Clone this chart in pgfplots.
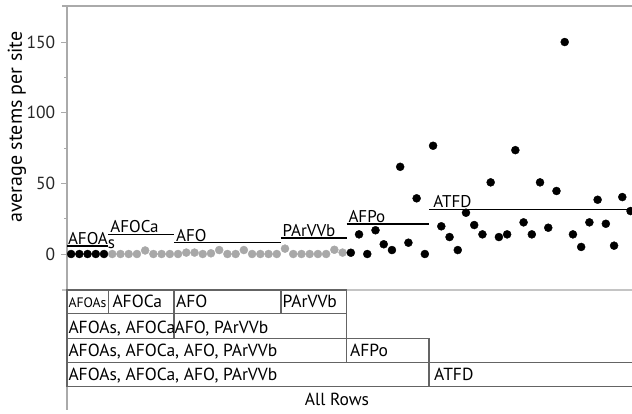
\documentclass[border=0pt]{standalone}
\usepackage{pgfplots}
\pgfplotsset{compat=1.18}
\usepackage{fontspec}
\setmainfont{PT Sans}
\definecolor{axgray}{RGB}{170,170,170}
\definecolor{ptgray}{RGB}{168,168,168}
\definecolor{tabgray}{RGB}{100,100,100}
\begin{document}
\fontsize{17}{20}\selectfont
\begin{tikzpicture}[x=1pt,y=1pt]
\useasboundingbox (0,0) rectangle (632,413);
\begin{axis}[
  at={(67pt,123pt)}, anchor=south west,
  width=565pt, height=284pt, scale only axis,
  xmin=-0.5, xmax=68.18, ymin=-25.47, ymax=175.5,
  axis x line=none, axis y line*=left,
  y axis line style={draw=axgray, line width=1.5pt, -},
  ytick={0,50,100,150}, minor ytick={25,75,125},
  tick align=outside, major tick length=6pt, minor tick length=3pt,
  every tick/.style={draw=axgray, line width=1pt},
  yticklabel style={font=\fontsize{17.5}{20}\selectfont, text=black!85},
  /pgf/number format/assume math mode=true,
  clip=false,
]
% group label lines
\addplot[black, line width=1.1pt, no marks, forget plot] coordinates {(-0.5,5.7) (4.5,5.7)};
\addplot[black, line width=1.1pt, no marks, forget plot] coordinates {(4.5,14.1) (12.5,14.1)};
\addplot[black, line width=1.1pt, no marks, forget plot] coordinates {(12.5,8.0) (25.5,8.0)};
\addplot[black, line width=1.1pt, no marks, forget plot] coordinates {(25.5,11.3) (33.5,11.3)};
\addplot[black, line width=1.1pt, no marks, forget plot] coordinates {(33.5,21.2) (43.5,21.2)};
\addplot[black, line width=1.1pt, no marks, forget plot] coordinates {(43.5,31.8) (68.18,31.8)};
% AFOAs (black)
\addplot[only marks, mark=*, mark size=4pt, black, mark options={draw=none, fill=black}] coordinates {
(0,0) (1,0) (2,0) (3,0) (4,0)};
% AFOCa, AFO, PArVVb (gray)
\addplot[only marks, mark=*, mark size=4pt, ptgray, mark options={draw=none, fill=ptgray}] coordinates {
(5,0) (6,0) (7,0) (8,0) (9,2.5) (10,0) (11,0) (12,0)
(13,0) (14,1) (15,1) (16,0) (17,0.5) (18,2.8) (19,0) (20,0) (21,2.8) (22,0) (23,0) (24,0) (25,0)
(26,3.8) (27,0) (28,0) (29,0) (30,0) (31,0) (32,3) (33,1)};
% AFPo (black)
\addplot[only marks, mark=*, mark size=4pt, black, mark options={draw=none, fill=black}] coordinates {
(34,0.9) (35,13.9) (36,0) (37,16.8) (38,6.9) (39,2.8) (40,61.7) (41,8.0) (42,39.4) (43,0)};
% ATFD (black)
\addplot[only marks, mark=*, mark size=4pt, black, mark options={draw=none, fill=black}] coordinates {
(44,76.6) (45,19.6) (46,12.0) (47,2.8) (48,29.2) (49,20.5) (50,13.9) (51,50.7) (52,12.0)
(53,13.9) (54,73.5) (55,22.4) (56,13.9) (57,50.7) (58,18.6) (59,44.6) (60,150) (61,13.9)
(62,5.0) (63,22.4) (64,38.4) (65,21.4) (66,5.9) (67,40.3) (68,30.4)};
% group labels
\node[anchor=base west, inner sep=0] at (axis cs:-0.4,6.8) {AFOA\raisebox{-4pt}{s}};
\node[anchor=base west, inner sep=0] at (axis cs:4.75,15.2) {AFOCa};
\node[anchor=base west, inner sep=0] at (axis cs:12.75,9.1) {AFO};
\node[anchor=base west, inner sep=0] at (axis cs:25.7,12.4) {PArVVb};
\node[anchor=base west, inner sep=0] at (axis cs:33.7,22.3) {AFPo};
\node[anchor=base west, inner sep=0] at (axis cs:44.0,32.9) {ATFD};
\end{axis}
% frame lines
\draw[axgray, line width=1.5pt] (62,407) -- (632,407);
\draw[axgray!70, line width=1.2pt] (62,123) -- (632,123);
\draw[axgray, line width=1.5pt] (67,123) -- (67,3);
% y label
\node[rotate=90, anchor=center, inner sep=0, font=\fontsize{20}{24}\selectfont] at (17,286) {average stems per site};
% table
\begin{scope}[tabgray, line width=1.2pt]
\draw (67,123) rectangle (108.1,99.7);
\draw (108.1,123) rectangle (174,99.7);
\draw (174,123) rectangle (280.9,99.7);
\draw (280.9,123) rectangle (346.7,99.7);
\draw (67,99.7) rectangle (174,74.7);
\draw (174,99.7) rectangle (346.7,74.7);
\draw (67,74.7) rectangle (346.7,50.3);
\draw (346.7,74.7) rectangle (429,50.3);
\draw (67,50.3) rectangle (429,26.3);
\draw (632,50.3) -- (429,50.3) -- (429,26.3) -- (632,26.3);
\end{scope}
\begin{scope}[every node/.style={anchor=base west, inner sep=0, font=\fontsize{17.5}{20}\selectfont}]
\node[font=\fontsize{13.7}{16}\selectfont] at (68.3,106) {AFOAs};
\node at (112.3,106) {AFOCa};
\node at (176,106) {AFO};
\node at (282.5,106) {PArVVb};
\node at (68.3,79.7) {AFOAs, AFOCa};
\node at (174.5,79.7) {AFO, PArVVb};
\node at (68.3,56.3) {AFOAs, AFOCa, AFO, PArVVb};
\node at (350,56.3) {AFPo};
\node at (68.3,33) {AFOAs, AFOCa, AFO, PArVVb};
\node at (434,33) {ATFD};
\end{scope}
\node[anchor=base, inner sep=0, font=\fontsize{17.5}{20}\selectfont] at (337,8) {All Rows};
\end{tikzpicture}
\end{document}
